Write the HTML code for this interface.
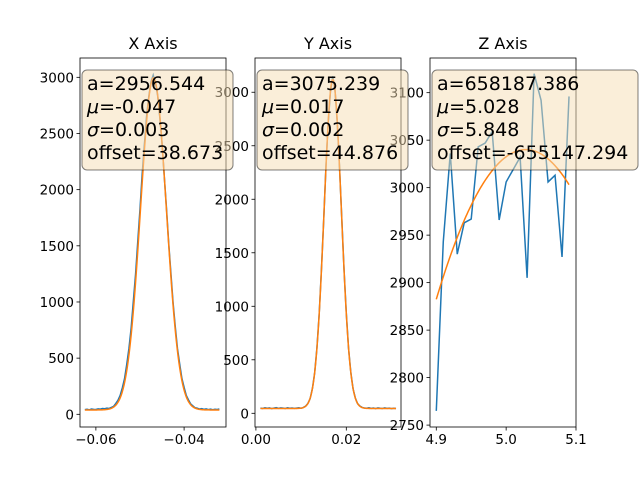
<!DOCTYPE html>
<html><head><meta charset="utf-8"><style>
body{margin:0;background:#fff}
svg{display:block;font-family:"DejaVu Sans","Liberation Sans",sans-serif}
</style></head><body>
<svg id="fig" width="640" height="480" viewBox="0 0 640 480" xmlns="http://www.w3.org/2000/svg"></svg>
<script>
// ---- X Axis data ----
const xStart = -0.0625, xStep = 0.0005;
const xVals = [42,45,40,47,44,43,48,46,52,50,55,
 52,61,70,96,125,168,236,318,446,588,770,1010,1248,1540,1826,2140,2400,2655,2830,2960,
 3020,
 2950,2840,2640,2415,2120,1840,1530,1262,995,780,585,448,320,240,168,128,92,75,58,54,
 47,50,44,48,42,46,41,45,43,47];
const xFit = [2956.544, -0.04695, 0.00293, 38.673];
const xXTicks = [-0.06, -0.04];
const xXTickLabels = ["\u22120.06", "\u22120.04"];
const xYTicks = [0,500,1000,1500,2000,2500,3000];
// ---- Y Axis data ----
const yStart = 0.001, yStep = 0.0005;
const yVals = [48,45,52,47,50,44,49,53,46,51,48,45,52,47,50,46,49,52,47,55,
 67,92,138,232,378,612,928,1348,1808,2310,2720,3010,
 3150,
 3020,2715,2300,1820,1340,935,605,382,228,142,90,68,55,50,
 47,52,46,49,44,51,47,45,50,46,48,44,47,45];
const yFit = [3075.239, 0.01700, 0.00190, 44.876];
const yXTicks = [0.00, 0.02];
const yXTickLabels = ["0.00", "0.02"];
const yYTicks = [0,500,1000,1500,2000,2500,3000];
// ---- Z Axis data ----
const zX = [4.90,4.91,4.92,4.93,4.94,4.95,4.96,4.97,4.98,4.99,5.00,5.01,5.02,5.03,5.04,5.05,5.06,5.07,5.08,5.09];
const zVals = [2765,2943,3036,2930,2963,2967,3043,3047,3059,2966,3006,3019,3032,2905,3120,3092,3006,3013,2927,3096];
const zFit = [658187.386, 5.028, 5.848, -655147.294];
const zXTicks = [4.9, 5.0, 5.1];
const zXTickLabels = ["4.9", "5.0", "5.1"];
const zYTicks = [2750,2800,2850,2900,2950,3000,3050,3100];
// ---- labels ----
const titles = ["X Axis","Y Axis","Z Axis"];
const boxTexts = [
 [["","a=2956.544"],["\u03bc","=-0.047"],["\u03c3","=0.003"],["","offset=38.673"]],
 [["","a=3075.239"],["\u03bc","=0.017"],["\u03c3","=0.002"],["","offset=44.876"]],
 [["","a=658187.386"],["\u03bc","=5.028"],["\u03c3","=5.848"],["","offset=-655147.294"]]];

const NS="http://www.w3.org/2000/svg";
const svg=document.getElementById('fig');
function mk(tag,attrs,parent){const e=document.createElementNS(NS,tag);for(const k in attrs)e.setAttribute(k,attrs[k]);(parent||svg).appendChild(e);return e;}
const plotTop=58,plotBot=427;
const panels=[
 {l:80,r:226,xmin:-0.0636,xmax:-0.0305,ymin:-113,ymax:3172,
  xs:xVals.map((v,i)=>xStart+i*xStep),ys:xVals,fit:xFit,xt:xXTicks,xtl:xXTickLabels,yt:xYTicks,name:'x'},
 {l:255,r:401,xmin:-0.0002,xmax:0.0321,ymin:-128,ymax:3320,
  xs:yVals.map((v,i)=>yStart+i*yStep),ys:yVals,fit:yFit,xt:yXTicks,xtl:yXTickLabels,yt:yYTicks,name:'y'},
 {l:430,r:576,xmin:4.891,xmax:5.1,ymin:2748,ymax:3136.5,
  xs:zX,ys:zVals,fit:zFit,xt:zXTicks,xtl:zXTickLabels,yt:zYTicks,name:'z'}];
const boxX=[82,257,432];
panels.forEach((p,pi)=>{
 const sx=v=>p.l+(v-p.xmin)/(p.xmax-p.xmin)*(p.r-p.l);
 const sy=v=>plotBot-(v-p.ymin)/(p.ymax-p.ymin)*(plotBot-plotTop);
 const g=mk('g',{});
 
 
 const cp=mk('clipPath',{id:'cp'+pi},g);mk('rect',{x:p.l,y:plotTop,width:p.r-p.l,height:plotBot-plotTop},cp);
 const d=p.xs.map((x,i)=>(i?'L':'M')+sx(x).toFixed(2)+','+sy(p.ys[i]).toFixed(2)).join('');
 const dl=mk('path',{d:d,fill:'none',stroke:'#1f77b4','stroke-width':1.5,'clip-path':'url(#cp'+pi+')'},g);
 
 
 const [a,mu,sg,off]=p.fit;const x0=p.xs[0],x1=p.xs[p.xs.length-1];let fd='';
 for(let k=0;k<=200;k++){const x=x0+(x1-x0)*k/200;const y=off+a*Math.exp(-(x-mu)*(x-mu)/(2*sg*sg));fd+=(k?'L':'M')+sx(x).toFixed(2)+','+sy(y).toFixed(2);}
 const fl=mk('path',{d:fd,fill:'none',stroke:'#ff7f0e','stroke-width':1.5,'clip-path':'url(#cp'+pi+')'},g);
 
 
 mk('rect',{x:p.l,y:plotTop,width:p.r-p.l,height:plotBot-plotTop,fill:'none',stroke:'#000','stroke-width':0.8},g);
 p.xt.forEach((t,i)=>{const X=sx(t);mk('line',{x1:X,x2:X,y1:plotBot,y2:plotBot+3.5,stroke:'#000','stroke-width':0.8},g);
  const tx=mk('text',{x:X,y:plotBot+17,'font-size':'13.5','text-anchor':'middle'},g);tx.textContent=p.xtl[i];
  
  });
 p.yt.forEach(t=>{const Y=sy(t);mk('line',{x1:p.l-3.5,x2:p.l,y1:Y,y2:Y,stroke:'#000','stroke-width':0.8},g);
  const tx=mk('text',{x:p.l-6,y:Y+5,'font-size':'13.5','text-anchor':'end'},g);tx.textContent=String(t);
  
  });
 const tt=mk('text',{x:(p.l+p.r)/2,y:49,'font-size':'16','text-anchor':'middle'},g);tt.textContent=titles[pi];
 
 
});
panels.forEach((p,pi)=>{
 const g=mk('g',{});
 
 
 const w=pi==2?206:151;
 mk('rect',{x:boxX[pi],y:70,width:w,height:100,rx:5,fill:'rgba(245,222,179,0.5)',stroke:'rgba(0,0,0,0.5)','stroke-width':1},g);
 boxTexts[pi].forEach((s,i)=>{const t=mk('text',{x:boxX[pi]+5,y:90+i*23,'font-size':'19'},g);
  if(s[0]){const it=mk('tspan',{'font-style':'italic'},t);it.textContent=s[0];}
  const rest=mk('tspan',{},t);rest.textContent=s[1];});
});
</script>
</body></html>
